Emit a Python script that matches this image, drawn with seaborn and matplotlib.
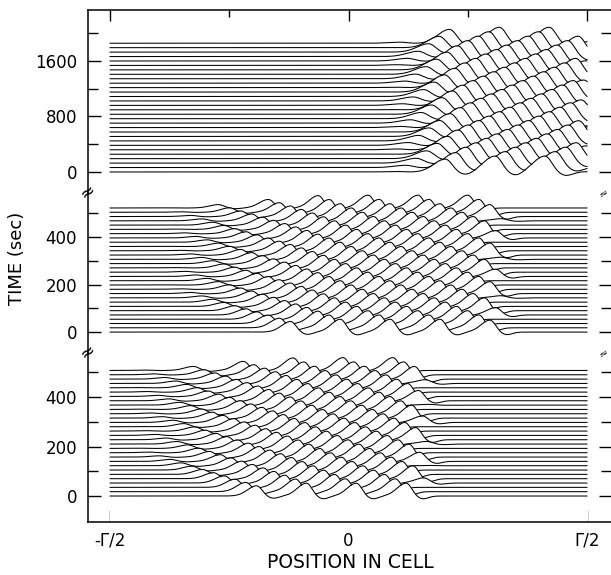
import numpy as np
import pandas as pd
import matplotlib
matplotlib.use("Agg")
import matplotlib.pyplot as plt
import seaborn as sns
from matplotlib.ticker import FixedLocator

sns.set_theme(style="ticks")
plt.rcParams["font.family"] = ["DejaVu Sans"]

# position along the cell, in units of the cell length Γ
position = np.linspace(-0.5, 0.5, 801)

# sweep start times (s): one trace per sweep, three recording blocks (top, middle, bottom)
top_sweeps = np.arange(30) * 64.0
middle_sweeps = np.arange(30) * 18.0
bottom_sweeps = np.arange(30) * 17.5
sweeps = [top_sweeps, middle_sweeps, bottom_sweeps]

# travelling waves in each block
wave_source = [0.52, 0.33, 0.175]         # where waves appear (Γ)
wave_speed = [0.00129, 0.00129, 0.00129]  # drift toward -Γ/2 (Γ per s)
wave_interval = [81.0, 81.0, 81.0]        # time between successive waves (s)
first_wave = [-3000.0, -350.0, -285.0]    # launch time of the first wave (s)
crest_height = [230.0, 54.0, 52.0]        # crest height in trace-offset units
front_width = [0.034, 0.027, 0.027]       # leading (left) flank width (Γ)
back_width = [0.020, 0.016, 0.016]        # trailing (right) flank width (Γ)
trough_depth = [0.22, 0.22, 0.22]         # dip behind each crest, fraction of crest
fade_zero = [0.08, -0.40, -0.47]          # waves vanish left of this (Γ)
fade_full = [0.25, -0.02, -0.08]          # full height right of this (Γ)

# axis ranges and ticks of each block
y_limits = [(-303, 2335), (-88, 585), (-105, 578)]
y_major = [[0, 800, 1600], [0, 200, 400], [0, 200, 400]]
y_minor = [[400, 1200, 2000], [100, 300, 500], [100, 300, 500]]
x_major = [-0.5, 0.0, 0.5]
x_major_labels = ["-Γ/2", "0", "Γ/2"]
x_minor = [-0.25, 0.25]


def smooth(s):
    s = np.clip(s, 0.0, 1.0)
    return s * s * (3 - 2 * s)


def sweep_profile(t, i):
    y = np.zeros_like(position)
    n_waves = int((t - first_wave[i]) // wave_interval[i]) + 1
    for m in range(n_waves):
        age = t - (first_wave[i] + m * wave_interval[i])
        if age < 0:
            continue
        xc = wave_source[i] - wave_speed[i] * age
        if xc < -0.7:
            continue
        grow = smooth(age * wave_speed[i] / 0.04)
        fade = smooth((xc - fade_zero[i]) / (fade_full[i] - fade_zero[i]))
        amp = crest_height[i] * grow * fade
        u = position - xc
        w = np.where(u < 0, front_width[i], back_width[i])
        crest = np.exp(-(u / w) ** 2)
        dip = np.exp(-((u - 2.2 * back_width[i]) / back_width[i]) ** 2)
        y += amp * (crest - trough_depth[i] * dip)
    return y


fig = plt.figure(figsize=(6.11, 5.75), dpi=100)
W, H = 611.0, 575.0
left, right = 88 / W, 611 / W
bands = [(10, 193), (193, 353), (353, 522)]
axes = []
for top_px, bot_px in bands:
    ax = fig.add_axes([left, 1 - bot_px / H, right - left, (bot_px - top_px) / H])
    axes.append(ax)

for i, ax in enumerate(axes):
    times = sweeps[i]
    # draw from the back (latest sweep) to the front so nearer traces hide farther ones
    for j, t in enumerate(times[::-1]):
        y = t + sweep_profile(t, i)
        z = 1.0 + j * 0.02
        ax.fill_between(position, y, y_limits[i][0], color="white", lw=0, zorder=z)
        sns.lineplot(x=position, y=y, ax=ax, color="black", lw=0.75,
                     estimator=None, sort=False, zorder=z + 0.01)

    ax.set_xlim(-0.546, 0.550)
    ax.set_ylim(*y_limits[i])
    ax.set_facecolor("white")
    for s in ["top", "bottom", "left", "right"]:
        ax.spines[s].set_visible(False)
    ax.spines["left"].set_visible(True)
    ax.spines["left"].set_linewidth(1.1)
    ax.spines["left"].set_color("black")

    ax.yaxis.set_major_locator(FixedLocator(y_major[i]))
    ax.yaxis.set_minor_locator(FixedLocator(y_minor[i]))
    ax.set_yticklabels([str(v) for v in y_major[i]])
    ax.tick_params(axis="y", which="both", direction="in", left=True, right=True,
                   color="black", width=1.0, labelsize=12, pad=8, labelcolor="black")
    ax.tick_params(axis="y", which="major", length=9)
    ax.tick_params(axis="y", which="minor", length=7)

    ax.xaxis.set_major_locator(FixedLocator(x_major))
    ax.xaxis.set_minor_locator(FixedLocator(x_minor))
    ax.tick_params(axis="x", which="both", direction="in", color="black", width=1.0,
                   bottom=False, top=False, labelbottom=False, labeltop=False)
    ax.set_xlabel("")
    ax.set_ylabel("")

# outer frame: top edge on the first block, bottom edge with labels on the last
axes[0].spines["top"].set_visible(True)
axes[0].spines["top"].set_linewidth(1.1)
axes[0].spines["top"].set_color("black")
axes[0].tick_params(axis="x", which="both", top=True)
axes[0].tick_params(axis="x", which="major", length=8)
axes[0].tick_params(axis="x", which="minor", length=5)

axes[2].spines["bottom"].set_visible(True)
axes[2].spines["bottom"].set_linewidth(1.1)
axes[2].spines["bottom"].set_color("black")
axes[2].set_xticklabels(x_major_labels)
axes[2].tick_params(axis="x", which="both", bottom=True, labelbottom=True,
                    labelsize=12, pad=7, labelcolor="black")
axes[2].tick_params(axis="x", which="major", length=9)
axes[2].tick_params(axis="x", which="minor", length=5)

# axis break marks between blocks
for y_px in [193, 353]:
    fig.text(88 / W, 1 - y_px / H, "≈", fontsize=13, ha="center", va="center",
             rotation=35, color="black", zorder=10)
    fig.text(604 / W, 1 - y_px / H, "≈", fontsize=8, ha="center", va="center",
             rotation=35, color="black", zorder=10)

fig.text(17 / W, 1 - 258 / H, "TIME (sec)", rotation=90, ha="center", va="center",
         fontsize=13, color="black")
fig.text(350 / W, 1 - 563 / H, "POSITION IN CELL", ha="center", va="center",
         fontsize=13.5, color="black")

fig.savefig("out.png", dpi=100, facecolor="white")
